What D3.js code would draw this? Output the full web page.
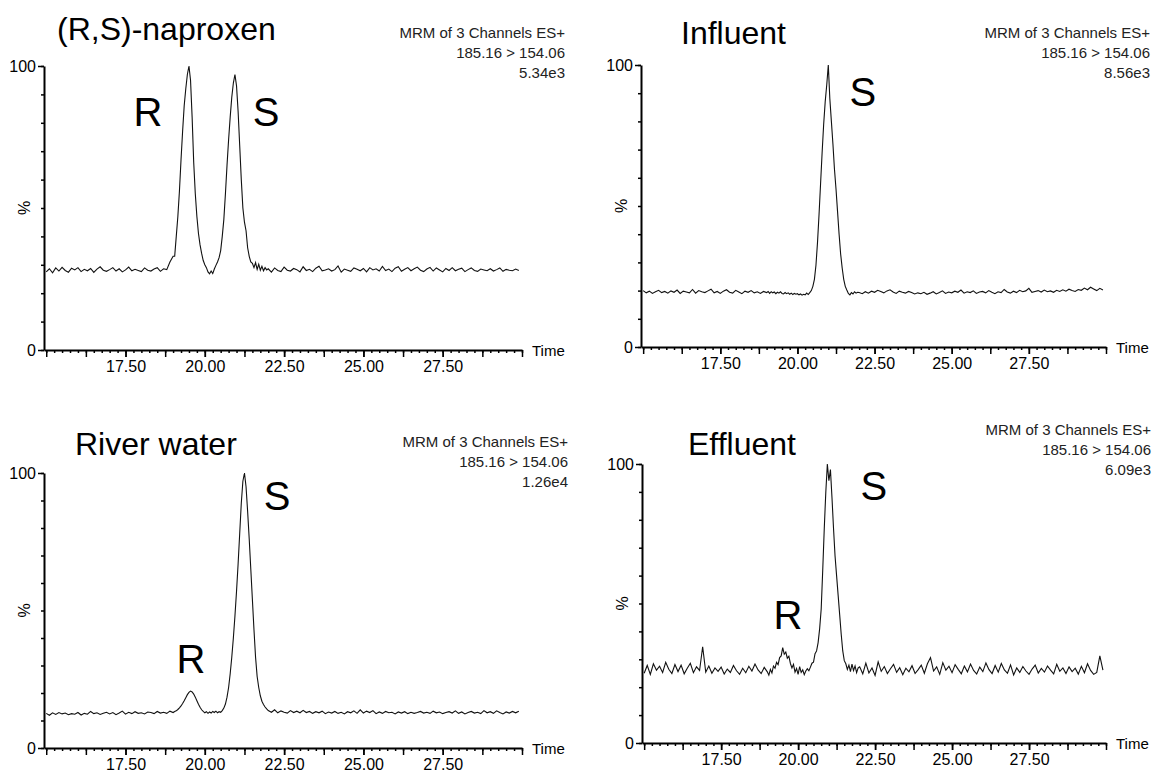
<!DOCTYPE html>
<html>
<head>
<meta charset="utf-8">
<script src="https://cdn.jsdelivr.net/npm/d3@7"></script>
<style>
  body { margin: 0; background: #fff; }
  svg { display: block; font-family: "Liberation Sans", Arial, sans-serif; }
</style>
</head>
<body>
<svg id="chart" width="1152" height="773"></svg>
<script>
// retention time (min) shared by the four traces, finer around the peaks
var timeGrid = [
  15.0, 15.1, 15.2, 15.3, 15.4, 15.5, 15.6, 15.7, 15.8, 15.9,
  16.0, 16.1, 16.2, 16.3, 16.4, 16.5, 16.6, 16.7, 16.8, 16.9,
  17.0, 17.1, 17.2, 17.3, 17.4, 17.5, 17.6, 17.7, 17.8, 17.9,
  18.0, 18.1, 18.2, 18.3, 18.4, 18.5, 18.6, 18.7, 18.8, 18.9,
  19.00, 19.05, 19.10, 19.15, 19.20, 19.25, 19.30, 19.35, 19.40, 19.45,
  19.50, 19.55, 19.60, 19.65, 19.70, 19.75, 19.80, 19.85, 19.90, 19.95,
  20.00, 20.05, 20.10, 20.15, 20.20, 20.25, 20.30, 20.35, 20.40, 20.45,
  20.50, 20.55, 20.60, 20.65, 20.70, 20.75, 20.80, 20.85, 20.90, 20.95,
  21.00, 21.05, 21.10, 21.15, 21.20, 21.25, 21.30, 21.35, 21.40, 21.45,
  21.50, 21.55, 21.60, 21.65, 21.70, 21.75, 21.80, 21.85, 21.90, 21.95,
  22.0, 22.1, 22.2, 22.3, 22.4, 22.5, 22.6, 22.7, 22.8, 22.9,
  23.0, 23.1, 23.2, 23.3, 23.4, 23.5, 23.6, 23.7, 23.8, 23.9,
  24.0, 24.1, 24.2, 24.3, 24.4, 24.5, 24.6, 24.7, 24.8, 24.9,
  25.0, 25.1, 25.2, 25.3, 25.4, 25.5, 25.6, 25.7, 25.8, 25.9,
  26.0, 26.1, 26.2, 26.3, 26.4, 26.5, 26.6, 26.7, 26.8, 26.9,
  27.0, 27.1, 27.2, 27.3, 27.4, 27.5, 27.6, 27.7, 27.8, 27.9,
  28.0, 28.1, 28.2, 28.3, 28.4, 28.5, 28.6, 28.7, 28.8, 28.9,
  29.0, 29.1, 29.2, 29.3, 29.4, 29.5, 29.6, 29.7, 29.8, 29.9
];

// relative intensity (%)
var naproxenStd = [
  27.5, 28.6, 27.2, 28.9, 27.8, 29.1, 28.0, 27.4, 28.8, 28.2,
  29.0, 27.6, 28.4, 27.9, 28.7, 27.3, 28.5, 29.3, 28.1, 27.7,
  28.3, 29.0, 27.8, 28.6, 27.5, 28.2, 29.2, 27.9, 28.4, 28.0,
  27.6, 28.9, 28.1, 27.8, 28.5, 29.0, 27.7, 28.6, 28.3, 31.0,
  33, 33, 40, 47, 56, 67, 77, 86, 92, 97,
  100, 95, 82, 66, 55, 47, 41, 37, 34, 31.5,
  30, 29, 27.5, 26.8, 27.8, 26.9, 28.5, 29.8, 31, 32.5,
  35, 40, 46, 55, 65, 74, 82, 89, 94, 97,
  93, 84, 72, 60, 50, 45, 42, 36, 33, 31,
  30.5, 29, 30.8, 28.4, 30.2, 28.1, 29.5, 27.9, 29.0, 28.2,
  28.6, 27.4, 28.9, 28.0, 27.6, 29.2, 28.1, 27.8, 28.7, 28.3,
  27.5, 29.3, 28.0, 28.4, 27.6, 28.8, 29.5, 27.9, 28.2, 28.6,
  27.8, 28.3, 29.6, 27.4, 28.5, 28.1, 27.7, 28.9, 28.4, 27.9,
  28.7, 27.5, 29.0, 28.2, 28.6, 27.8, 29.4, 28.0, 28.5, 27.6,
  28.8, 29.3, 27.7, 28.4, 29.0, 27.9, 28.6, 29.2, 28.1, 27.6,
  28.5, 29.1, 27.8, 28.9, 28.2, 27.5, 28.7, 28.0, 29.0, 27.9,
  28.4, 28.8, 27.6, 28.3, 28.9, 28.0, 27.7, 28.5, 28.2, 27.9,
  28.6, 27.8, 28.3, 28.9, 27.7, 28.4, 28.1, 27.9, 28.5, 28.0
];

var influent = [
  20.0, 19.2, 19.8, 19.0, 19.6, 20.1, 19.3, 19.7, 19.1, 19.9,
  19.4, 20.2, 19.0, 19.8, 19.5, 19.2, 20.4, 19.1, 20.0, 19.6,
  19.3, 19.9, 20.5, 19.2, 19.7, 19.0, 19.8, 20.3, 19.4, 19.1,
  20.1, 19.5, 18.9, 19.8, 19.4, 20.0, 19.2, 19.6, 19.0, 19.7,
  19.3, 19.7, 19.0, 19.6, 19.2, 19.5, 18.9, 19.4, 19.1, 19.6,
  19.0, 18.8, 19.3, 18.9, 19.2, 18.7, 19.1, 18.6, 19.0, 18.7,
  18.9, 18.5, 18.8, 18.4, 18.7, 18.5, 19.1, 18.6, 19.3, 20.0,
  21.5, 24, 29, 37, 47, 58, 69, 79, 87, 93,
  100, 88, 80, 72, 63, 56, 48, 40, 33, 28,
  24, 21.5, 20.2, 19.0, 18.5, 19.3, 18.8, 19.6, 19.1, 19.4,
  19.3, 18.9, 19.6, 19.1, 19.8, 19.4, 20.1, 19.7, 19.2, 19.9,
  20.3, 19.5, 19.0, 19.8, 19.4, 19.1, 19.7, 19.3, 18.8, 19.2,
  18.9, 19.4, 18.7, 19.1, 19.6, 18.8, 19.3, 19.9, 19.0, 19.5,
  19.2, 19.8, 19.4, 20.2, 19.1, 19.6, 19.3, 19.9, 19.0, 19.5,
  19.7, 19.2, 20.0, 19.4, 18.9, 19.6, 19.3, 20.4, 19.5, 19.1,
  19.8, 19.3, 20.1, 19.6, 19.9, 20.8, 19.4, 19.7, 20.0, 19.5,
  20.2, 19.6, 19.9, 19.4, 20.1, 19.7, 20.3, 19.8, 20.5, 20.0,
  19.7, 20.4, 20.1, 20.9, 20.3, 21.2, 20.6, 20.0, 20.8, 20.2
];

var riverWater = [
  12.6, 11.9, 12.8, 12.2, 12.9, 12.4, 12.7, 12.1, 12.5, 12.3,
  12.9, 12.0, 12.6, 12.3, 13.3, 12.5, 12.8, 12.2, 12.6, 13.0,
  12.4, 12.9, 12.1, 12.7, 13.4, 12.3, 13.0, 12.5, 13.2, 12.6,
  12.8, 12.4, 13.1, 12.9, 12.5, 13.3, 12.7, 13.0, 12.6, 13.4,
  12.9, 13.3, 13.5, 14.0, 14.6, 15.3, 16.2, 17.2, 18.3, 19.4,
  20.2, 20.7, 20.4, 19.6, 18.5, 17.2, 15.9, 14.8, 13.9, 13.3,
  12.8, 13.2, 12.6, 13.1, 12.7, 13.3, 12.9, 13.4, 12.8, 13.2,
  13.0, 13.6, 14.5, 16, 18.5, 22, 27, 33, 40, 48,
  57, 67, 78, 89, 97, 100, 95, 86, 76, 65,
  54, 43, 33, 26, 22, 19, 17, 15.8, 14.9, 14.2,
  13.6, 13.0, 13.9, 12.8, 13.5, 13.0, 12.7, 13.6, 12.9, 13.4,
  12.8, 13.7, 12.9, 13.3, 12.6, 13.2, 12.8, 13.4, 12.5, 13.1,
  12.7, 13.3, 12.6, 13.0, 12.4, 13.2, 12.8, 13.5, 12.6, 13.9,
  12.7, 13.4, 12.9, 13.6, 12.5, 13.1, 12.6, 13.3, 12.8, 13.0,
  12.4, 13.1, 12.7, 13.2, 12.5, 13.0, 12.6, 12.9, 13.3, 12.7,
  13.0, 12.6, 13.4, 12.8, 13.1, 12.5, 12.9, 13.2, 12.7, 13.5,
  12.6, 13.1, 12.4, 12.9, 13.3, 12.7, 13.0, 12.5, 13.6, 12.8,
  13.2, 12.6, 13.5, 12.9, 12.4, 13.1, 12.7, 13.3, 12.8, 13.4
];

var effluent = [
  25.0, 27.8, 24.6, 28.4, 26.1, 27.5, 25.3, 28.9, 26.4, 24.9,
  28.1, 25.6, 27.9, 24.8, 26.8, 28.6, 25.2, 27.3, 26.0, 34.5,
  25.4, 27.6, 25.0, 26.9, 25.7, 27.2, 24.7, 26.5, 25.3, 27.8,
  25.9, 24.6, 26.8, 25.2, 27.5, 25.8, 28.3, 26.2, 24.9, 27.1,
  25.5, 24.3, 26.4, 25.1, 27.6, 26.8, 28.9, 28.1, 30.6, 31.2,
  34.2, 31.8, 32.6, 30.4, 31.1, 28.5, 26.9, 28.2, 25.4, 26.7,
  24.6, 27.4, 25.3, 26.2, 24.5, 25.8, 26.6, 25.9, 27.2, 28.6,
  29, 32, 33, 36, 41, 48, 62, 77, 90, 100,
  94, 98, 88, 77, 67, 60, 53, 46, 39, 33,
  29.5, 28.4, 26.4, 27.9, 25.6, 28.3, 26.0, 27.6, 25.2, 26.9,
  27.3, 24.8, 28.6, 25.1, 26.9, 24.2, 29.1, 25.7, 27.4, 24.9,
  26.6, 28.2, 25.3, 27.0, 24.5, 26.8, 25.5, 27.7, 24.9, 26.3,
  27.9, 25.0, 28.4, 30.6, 25.8, 27.3, 24.6, 28.8, 26.1, 27.5,
  25.2, 28.1, 26.4, 24.8, 27.6, 25.5, 28.3, 26.0, 24.7, 27.2,
  25.6, 28.7, 26.3, 24.9, 27.8, 25.4, 28.5, 26.2, 25.0, 28.0,
  24.4, 26.9, 25.3, 27.4, 25.8, 24.6, 26.5, 27.9, 25.1, 26.7,
  25.4, 27.6, 26.1, 24.8, 28.2, 25.7, 26.9, 24.9, 27.3, 25.6,
  26.8, 24.7, 27.5, 25.2, 28.4, 26.0, 24.6, 25.3, 31.2, 26.1
];

var panelTitles = ["(R,S)-naproxen", "Influent", "River water", "Effluent"];
var channelLine1 = "MRM of 3 Channels ES+";
var channelLine2 = "185.16 > 154.06";
var maxIntensity = ["5.34e3", "8.56e3", "1.26e4", "6.09e3"];
var timeTicks = [17.5, 20, 22.5, 25, 27.5];
var pctTicks = [0, 100];

// enantiomer labels, placed in data units (time, %)
var peakLabels = [
  [{ name: "R", t: 18.21, pct: 79 }, { name: "S", t: 21.93, pct: 79 }],
  [{ name: "S", t: 22.12, pct: 85.5 }],
  [{ name: "R", t: 19.56, pct: 27.3 }, { name: "S", t: 22.28, pct: 86.5 }],
  [{ name: "R", t: 19.67, pct: 40.9 }, { name: "S", t: 22.46, pct: 87.1 }]
];

var series = [naproxenStd, influent, riverWater, effluent];

// plot boxes in pixels
var panels = [
  { left: 44, right: 522, top: 66, bottom: 350, titleX: 57, titleY: 40, headX: 565, headY: 38 },
  { left: 641, right: 1106, top: 65, bottom: 347, titleX: 681, titleY: 44, headX: 1150, headY: 38 },
  { left: 44, right: 522, top: 473, bottom: 748, titleX: 75, titleY: 455, headX: 568, headY: 447 },
  { left: 642, right: 1106, top: 464, bottom: 743, titleX: 688, titleY: 455, headX: 1151, headY: 435 }
];

var svg = d3.select("#chart");

var minorTime = d3.range(15, 30.01, 0.25);
var midTime = d3.range(15, 30.01, 1.25);
var minorPct = d3.range(0, 101, 10);

panels.forEach(function (p, k) {
  var g = svg.append("g").attr("class", "panel");

  var x = d3.scaleLinear().domain([14.93, 30.0]).range([p.left, p.right]);
  var y = d3.scaleLinear().domain([0, 100]).range([p.bottom, p.top]);

  // x axis: small ticks every 0.25, taller every 1.25, labels every 2.5
  g.append("g")
    .attr("transform", `translate(0, ${p.bottom})`)
    .call(d3.axisBottom(x).tickValues(minorTime).tickSize(3).tickSizeOuter(0).tickFormat(""))
    .call(a => a.select(".domain").remove());

  g.append("g")
    .attr("transform", `translate(0, ${p.bottom})`)
    .call(d3.axisBottom(x).tickValues(midTime).tickSize(7).tickSizeOuter(0).tickFormat(""))
    .call(a => a.select(".domain").remove());

  var xa = g.append("g")
    .attr("class", "x_axis_g")
    .attr("transform", `translate(0, ${p.bottom})`)
    .call(d3.axisBottom(x).tickValues(timeTicks).tickSize(7).tickSizeOuter(0).tickPadding(4).tickFormat(d3.format(".2f")));
  xa.select(".domain").attr("stroke-width", 2);
  xa.selectAll("text").style("font-size", "16px").attr("fill", "#000");

  // y axis
  g.append("g")
    .attr("transform", `translate(${p.left}, 0)`)
    .call(d3.axisLeft(y).tickValues(minorPct).tickSize(3).tickSizeOuter(0).tickFormat(""))
    .call(a => a.select(".domain").remove());

  var ya = g.append("g")
    .attr("class", "y_axis_g")
    .attr("transform", `translate(${p.left}, 0)`)
    .call(d3.axisLeft(y).tickValues(pctTicks).tickSize(6).tickSizeOuter(0).tickPadding(2));
  ya.select(".domain").attr("stroke-width", 2);
  ya.selectAll("text").style("font-size", "16px").attr("fill", "#000");

  g.selectAll(".tick line").attr("stroke-width", 1.5);

  g.append("text")
    .attr("transform", `translate(${p.left - 20}, ${y(50)}) rotate(-90)`)
    .attr("text-anchor", "middle")
    .attr("dominant-baseline", "central")
    .style("font-size", "16px")
    .text("%");

  g.append("text")
    .attr("x", p.right + 10)
    .attr("y", p.bottom)
    .attr("dominant-baseline", "central")
    .style("font-size", "15px")
    .text("Time");

  // trace
  var line = d3.line()
    .x((d, i) => x(timeGrid[i]))
    .y(d => y(d));

  g.append("path")
    .datum(series[k])
    .attr("fill", "none")
    .attr("stroke", "#111")
    .attr("stroke-width", 1.1)
    .attr("d", line);

  // title and acquisition header
  g.append("text")
    .attr("x", p.titleX)
    .attr("y", p.titleY)
    .style("font-size", "32px")
    .text(panelTitles[k]);

  var head = [channelLine1, channelLine2, maxIntensity[k]];
  g.selectAll(".head")
    .data(head)
    .join("text")
    .attr("class", "head")
    .attr("x", p.headX)
    .attr("y", (d, i) => p.headY + i * 20)
    .attr("text-anchor", "end")
    .attr("fill", "#222")
    .style("font-size", "15px")
    .text(d => d);

  g.selectAll(".peak")
    .data(peakLabels[k])
    .join("text")
    .attr("class", "peak")
    .attr("x", d => x(d.t))
    .attr("y", d => y(d.pct))
    .attr("text-anchor", "middle")
    .style("font-size", "40px")
    .text(d => d.name);
});
</script>
</body>
</html>
